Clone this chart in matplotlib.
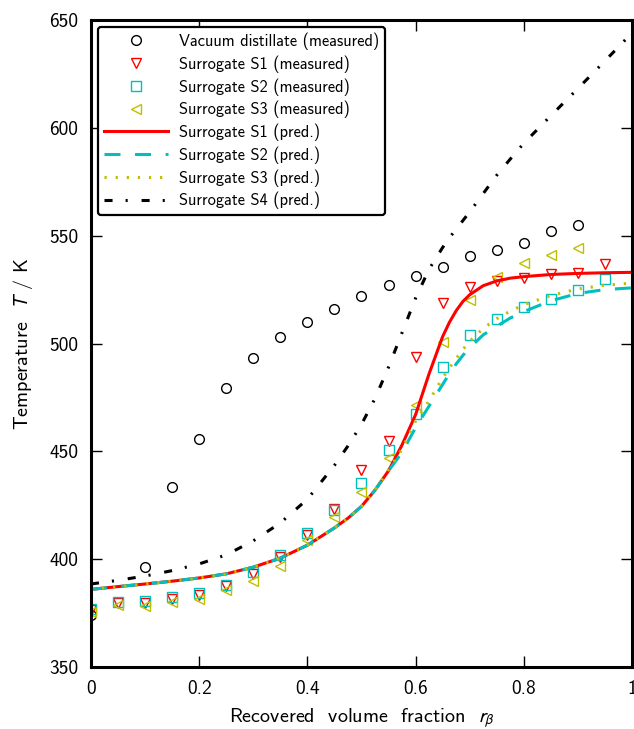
import matplotlib
matplotlib.use('Agg')
import matplotlib.pyplot as plt
import numpy as np

plt.rcParams['font.family'] = 'cmss10'
plt.rcParams['mathtext.fontset'] = 'stixsans'
plt.rcParams['lines.scale_dashes'] = False
plt.rcParams['axes.unicode_minus'] = False

# measured distillation curves
r_vac = [0, 0.1, 0.15, 0.2, 0.25, 0.3, 0.35, 0.4, 0.45, 0.5, 0.55,
         0.6, 0.65, 0.7, 0.75, 0.8, 0.85, 0.9]
T_vac = [374, 396.4, 433.4, 455.7, 479.3, 493.3, 503, 510, 516, 522.2, 527,
         531.5, 535.5, 540.5, 543.5, 546.7, 552, 555]

r_s1 = [0, 0.05, 0.1, 0.15, 0.2, 0.25, 0.3, 0.35, 0.4, 0.45, 0.5,
        0.55, 0.6, 0.65, 0.7, 0.75, 0.8, 0.85, 0.9, 0.95]
T_s1 = [376.5, 379.8, 379.8, 381.5, 383.5, 387.8, 393, 401, 411, 423.5, 441.2,
        454.7, 493.8, 519, 526, 529, 530.6, 532, 532.8, 537]

r_s2 = r_s1
T_s2 = [377, 380.2, 380.7, 382.4, 384.2, 388, 394, 401.8, 412, 423, 435.5,
        450.5, 467.5, 489.2, 504, 511.2, 517, 520.8, 524.8, 530]

r_s3 = r_s1[:-1]
T_s3 = [375.5, 378.7, 378.5, 380, 381.5, 385.5, 390, 396.8, 408.8, 419.4, 431.2,
        446.7, 471.4, 500.5, 520, 531, 537.5, 540.9, 544.3]

# predicted curves
r_pred = [0, 0.05, 0.1, 0.15, 0.2, 0.25, 0.3, 0.35, 0.4, 0.45, 0.475, 0.5,
          0.525, 0.55, 0.575, 0.6, 0.625, 0.65, 0.6625, 0.675, 0.6875, 0.7,
          0.725, 0.75, 0.775, 0.8, 0.85, 0.9, 0.95, 1.0]
T_p1 = [386, 387.3, 388.5, 389.8, 391.3, 393.2, 396.3, 400.5, 406.5, 414.5,
        419, 424.5, 432, 441, 453, 467, 486, 503.2, 509.8, 515.2, 519.5, 522.6,
        526.8, 529, 530.3, 531, 532, 532.5, 532.8, 533]
T_p2 = [386, 387.3, 388.5, 389.8, 391.3, 393.2, 396.3, 400.5, 406.5, 414.5,
        419, 424.5, 432, 441, 449.5, 461, 471, 481, 486, 490.5, 494.5, 498,
        504, 508, 511.8, 514.8, 519.8, 523.2, 525, 525.8]
T_p3 = [386, 387.3, 388.5, 389.8, 391.3, 393.2, 396.3, 400.5, 406.5, 414.5,
        419, 424.5, 432, 441.5, 451, 464, 473.5, 484, 488.7, 493, 497.2, 501,
        507, 511.5, 515, 518, 522.2, 525.3, 527, 528]
T_p4 = [388.5, 390.2, 392.2, 394.7, 397.8, 402, 408.5, 416.8, 427.8, 443.5,
        452.5, 462.5, 474.5, 489, 505, 521, 534.5, 544.5, 549, 553, 557, 561,
        569.5, 578, 585.5, 592.8, 605.6, 618.2, 631, 644]

xticks = [0, 0.2, 0.4, 0.6, 0.8, 1.0]
xticklabels = ['0', '0.2', '0.4', '0.6', '0.8', '1']
yticks = [350, 400, 450, 500, 550, 600, 650]

fig = plt.figure(figsize=(6.34, 7.29), dpi=100)
ax = fig.add_axes([0.1435, 0.085, 0.8533, 0.8876])

mk = dict(linestyle='none', markersize=7, markeredgewidth=1.0,
          markerfacecolor='none')
ax.plot(r_vac, T_vac, marker='o', markeredgecolor='k',
        label='Vacuum distillate (measured)', **mk)
ax.plot(r_s1, T_s1, marker='v', markeredgecolor='r',
        label='Surrogate S1 (measured)', **mk)
ax.plot(r_s2, T_s2, marker='s', markeredgecolor='c',
        label='Surrogate S2 (measured)', **mk)
ax.plot(r_s3, T_s3, marker='<', markeredgecolor='y',
        label='Surrogate S3 (measured)', **mk)

ax.plot(r_pred, T_p1, color='r', lw=2.2, label='Surrogate S1 (pred.)')
ax.plot(r_pred, T_p2, color='c', lw=2.2, dashes=(11.5, 10.5),
        label='Surrogate S2 (pred.)')
ax.plot(r_pred, T_p3, color='y', lw=2.2, dashes=(1.6, 6.4),
        label='Surrogate S3 (pred.)')
ax.plot(r_pred, T_p4, color='k', lw=2.2, dashes=(5.8, 9.4, 1.5, 10),
        label='Surrogate S4 (pred.)')

ax.set_xlim(0, 1)
ax.set_ylim(350, 650)
ax.set_xticks(xticks)
ax.set_xticklabels(xticklabels)
ax.set_yticks(yticks)
ax.tick_params(direction='in', length=8, width=1, labelsize=14,
               top=True, right=True, pad=9)
for s in ax.spines.values():
    s.set_linewidth(2.2)

ax.set_xlabel(r'Recovered  volume  fraction  $r_\beta$', fontsize=14.5, labelpad=6)
ax.set_ylabel(r'Temperature  $T$ / K', fontsize=14.5, labelpad=10)

leg = ax.legend(loc='upper left', numpoints=1, fontsize=11.8, handlelength=3.9,
                handletextpad=0.7, labelspacing=0.32, fancybox=True,
                framealpha=1, borderaxespad=0.42, borderpad=0.35)
leg.get_frame().set_edgecolor('k')
leg.get_frame().set_linewidth(1.6)

fig.savefig('out.png', dpi=100)
